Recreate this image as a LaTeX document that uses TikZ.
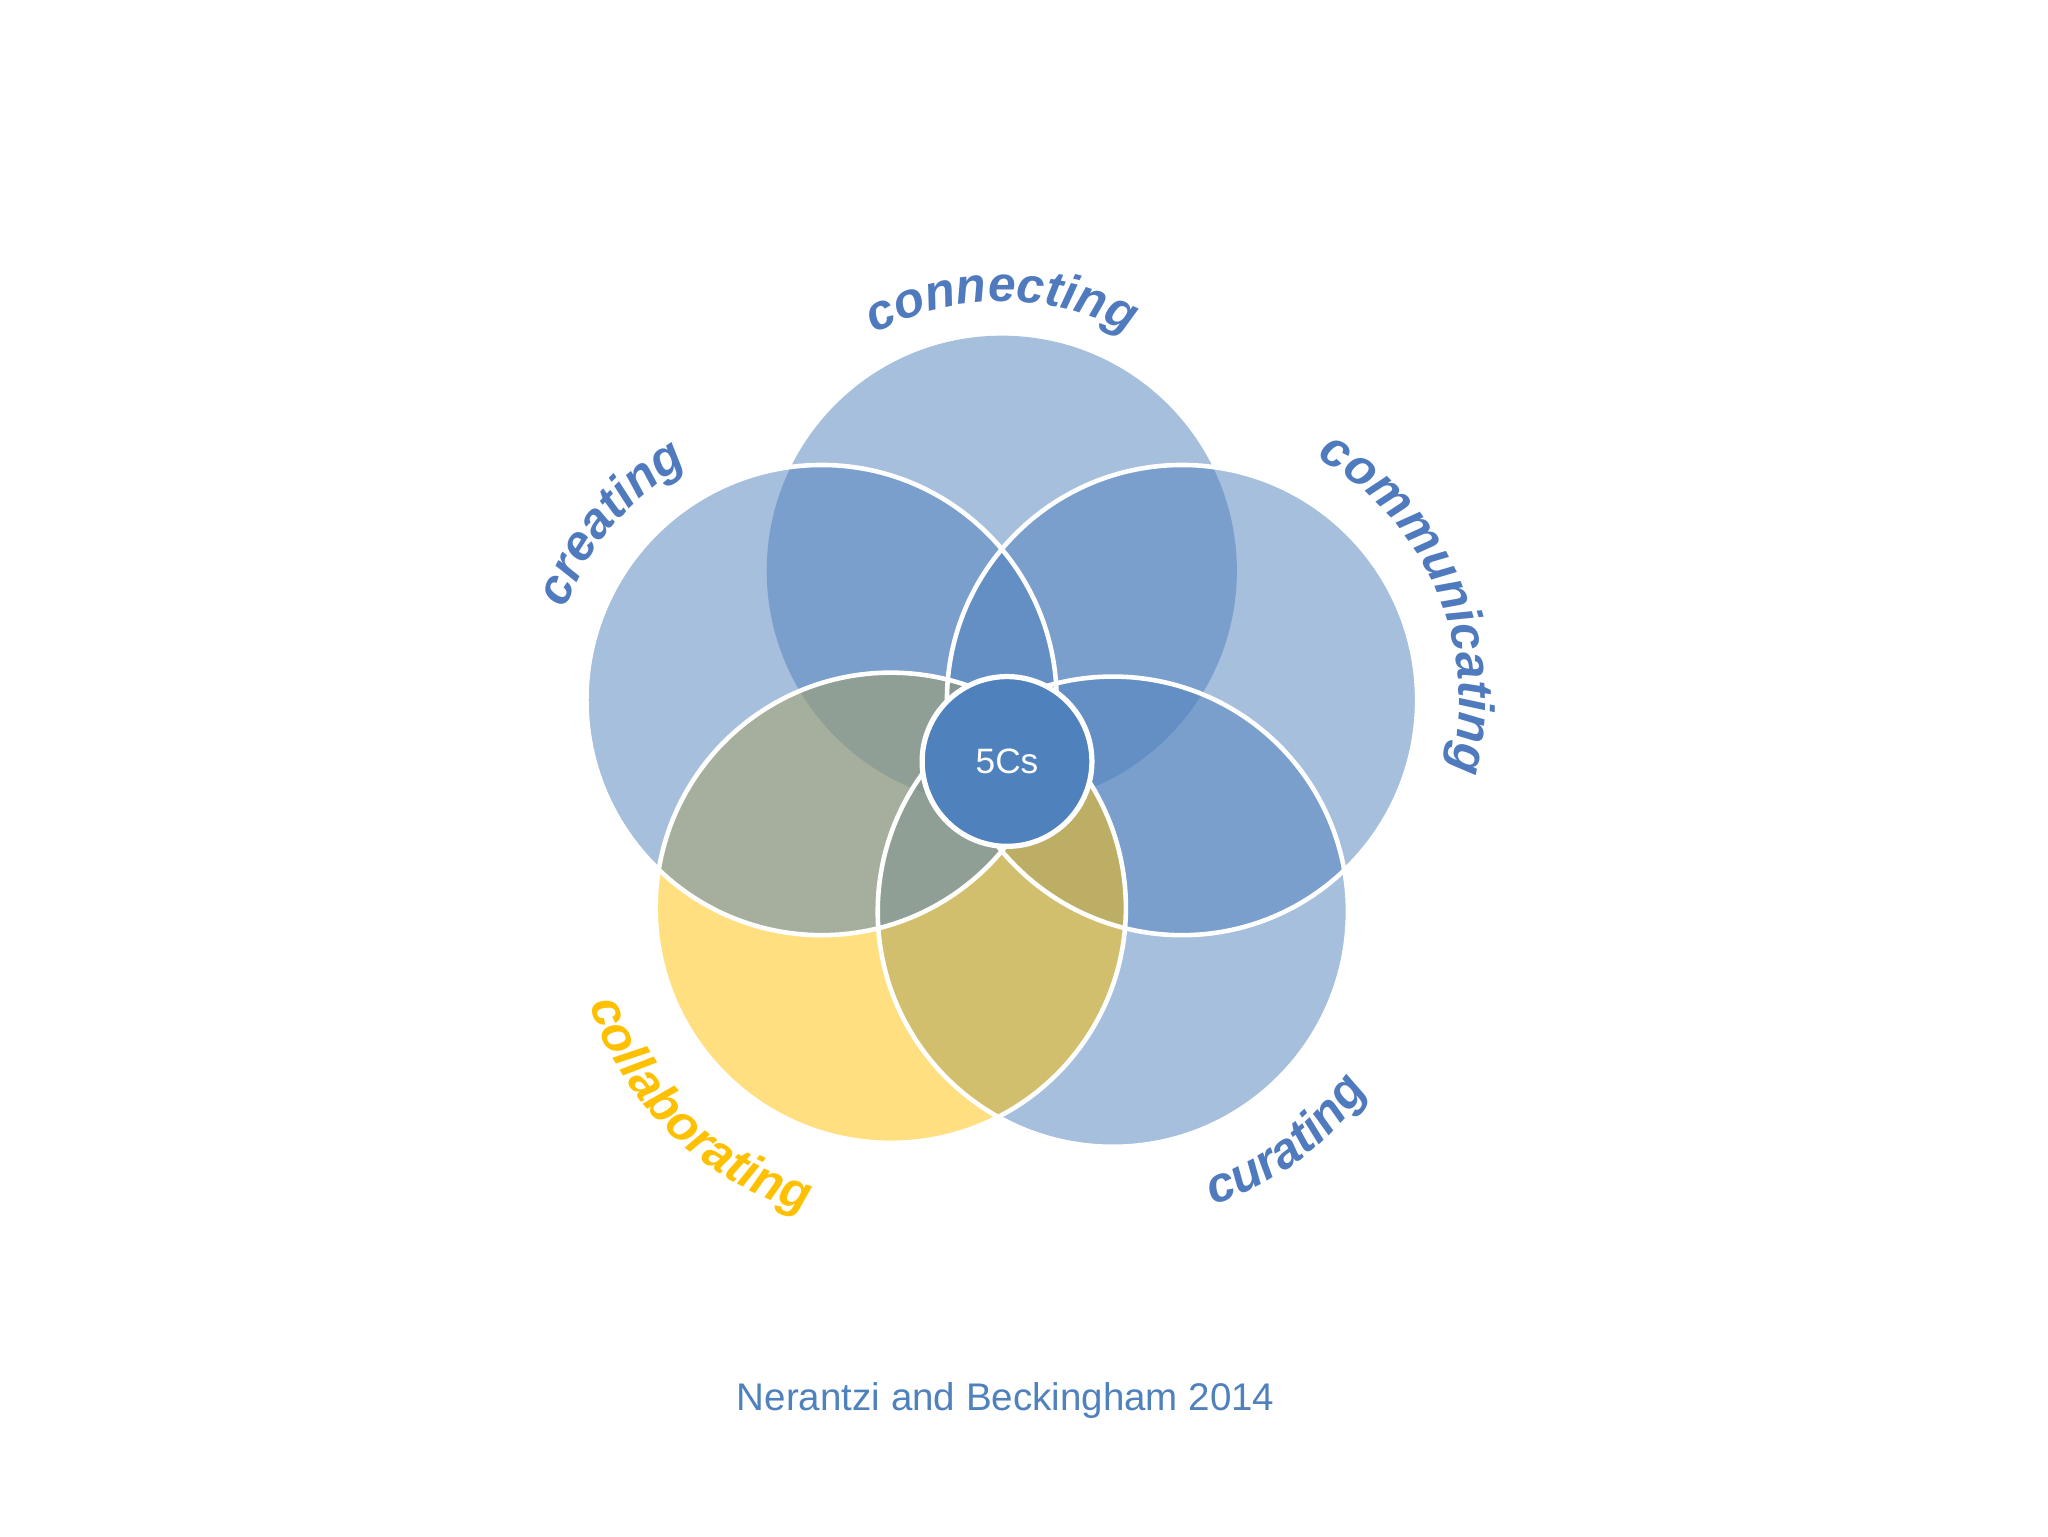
\documentclass[tikz,border=0pt]{standalone}
\usepackage{fontspec}
\setmainfont{Liberation Sans}
\usetikzlibrary{decorations.text,calc}
\definecolor{cblue}{HTML}{4F81BD}
\definecolor{ctext}{HTML}{4F7BBE}
\definecolor{cyel}{HTML}{FFC000}
\newcommand{\lblfont}{\fontsize{38}{38}\selectfont\bfseries\itshape}
\begin{document}
\begin{tikzpicture}[x=1pt,y=1pt,
  petal/.style={fill=#1,fill opacity=0.5},
  rim/.style={draw=white,line width=3.5pt},
  lbl/.style={decorate,decoration={text along path,text align=center,text color=#1,text format delimiters={|}{|}}}]
\useasboundingbox[fill=white] (0,0) rectangle (1568,1176);
\coordinate (connecting) at (767,739);
\coordinate (communicating) at (905,640);
\coordinate (curating) at (852,478);
\coordinate (collaborating) at (682,481);
\coordinate (creating) at (629,640);
\def\R{180}
\fill[petal=cblue] (connecting) circle[radius=\R];
\fill[petal=cblue] (communicating) circle[radius=\R];
\fill[petal=cblue] (curating) circle[radius=\R];
\fill[petal=cyel] (collaborating) circle[radius=\R];
\fill[petal=cblue] (creating) circle[radius=\R];
\draw[rim] (communicating) circle[radius=\R];
\draw[rim] (curating) circle[radius=\R];
\draw[rim] (collaborating) circle[radius=\R];
\draw[rim] (creating) circle[radius=\R];
\node[circle,fill=cblue,draw=white,line width=4pt,minimum size=130pt,text=white,font=\fontsize{27}{27}\selectfont] (c5) at (771,593) {5Cs};
\path[lbl=ctext,decoration={text={|\lblfont|connecting}}] ($(connecting)+(125:206)$) arc[start angle=125,end angle=55,radius=206];
\path[lbl=ctext,decoration={text={|\lblfont|creating}}] ($(creating)+(170:208)$) arc[start angle=170,end angle=110,radius=208];
\path[lbl=ctext,decoration={text={|\lblfont|communicating}}] ($(communicating)+(70:212)$) arc[start angle=70,end angle=-24,radius=212];
\path[lbl=ctext,decoration={text={|\lblfont|curating}}] ($(curating)+(-80:238)$) arc[start angle=-80,end angle=-26,radius=238];
\path[lbl=cyel,decoration={text={|\lblfont|collaborating}}] ($(collaborating)+(186:242)$) arc[start angle=186,end angle=266,radius=242];
\node[text=cblue,font=\fontsize{29.5}{29.5}\selectfont] (credit) at (770,104) {Nerantzi and Beckingham 2014};
\end{tikzpicture}
\end{document}
